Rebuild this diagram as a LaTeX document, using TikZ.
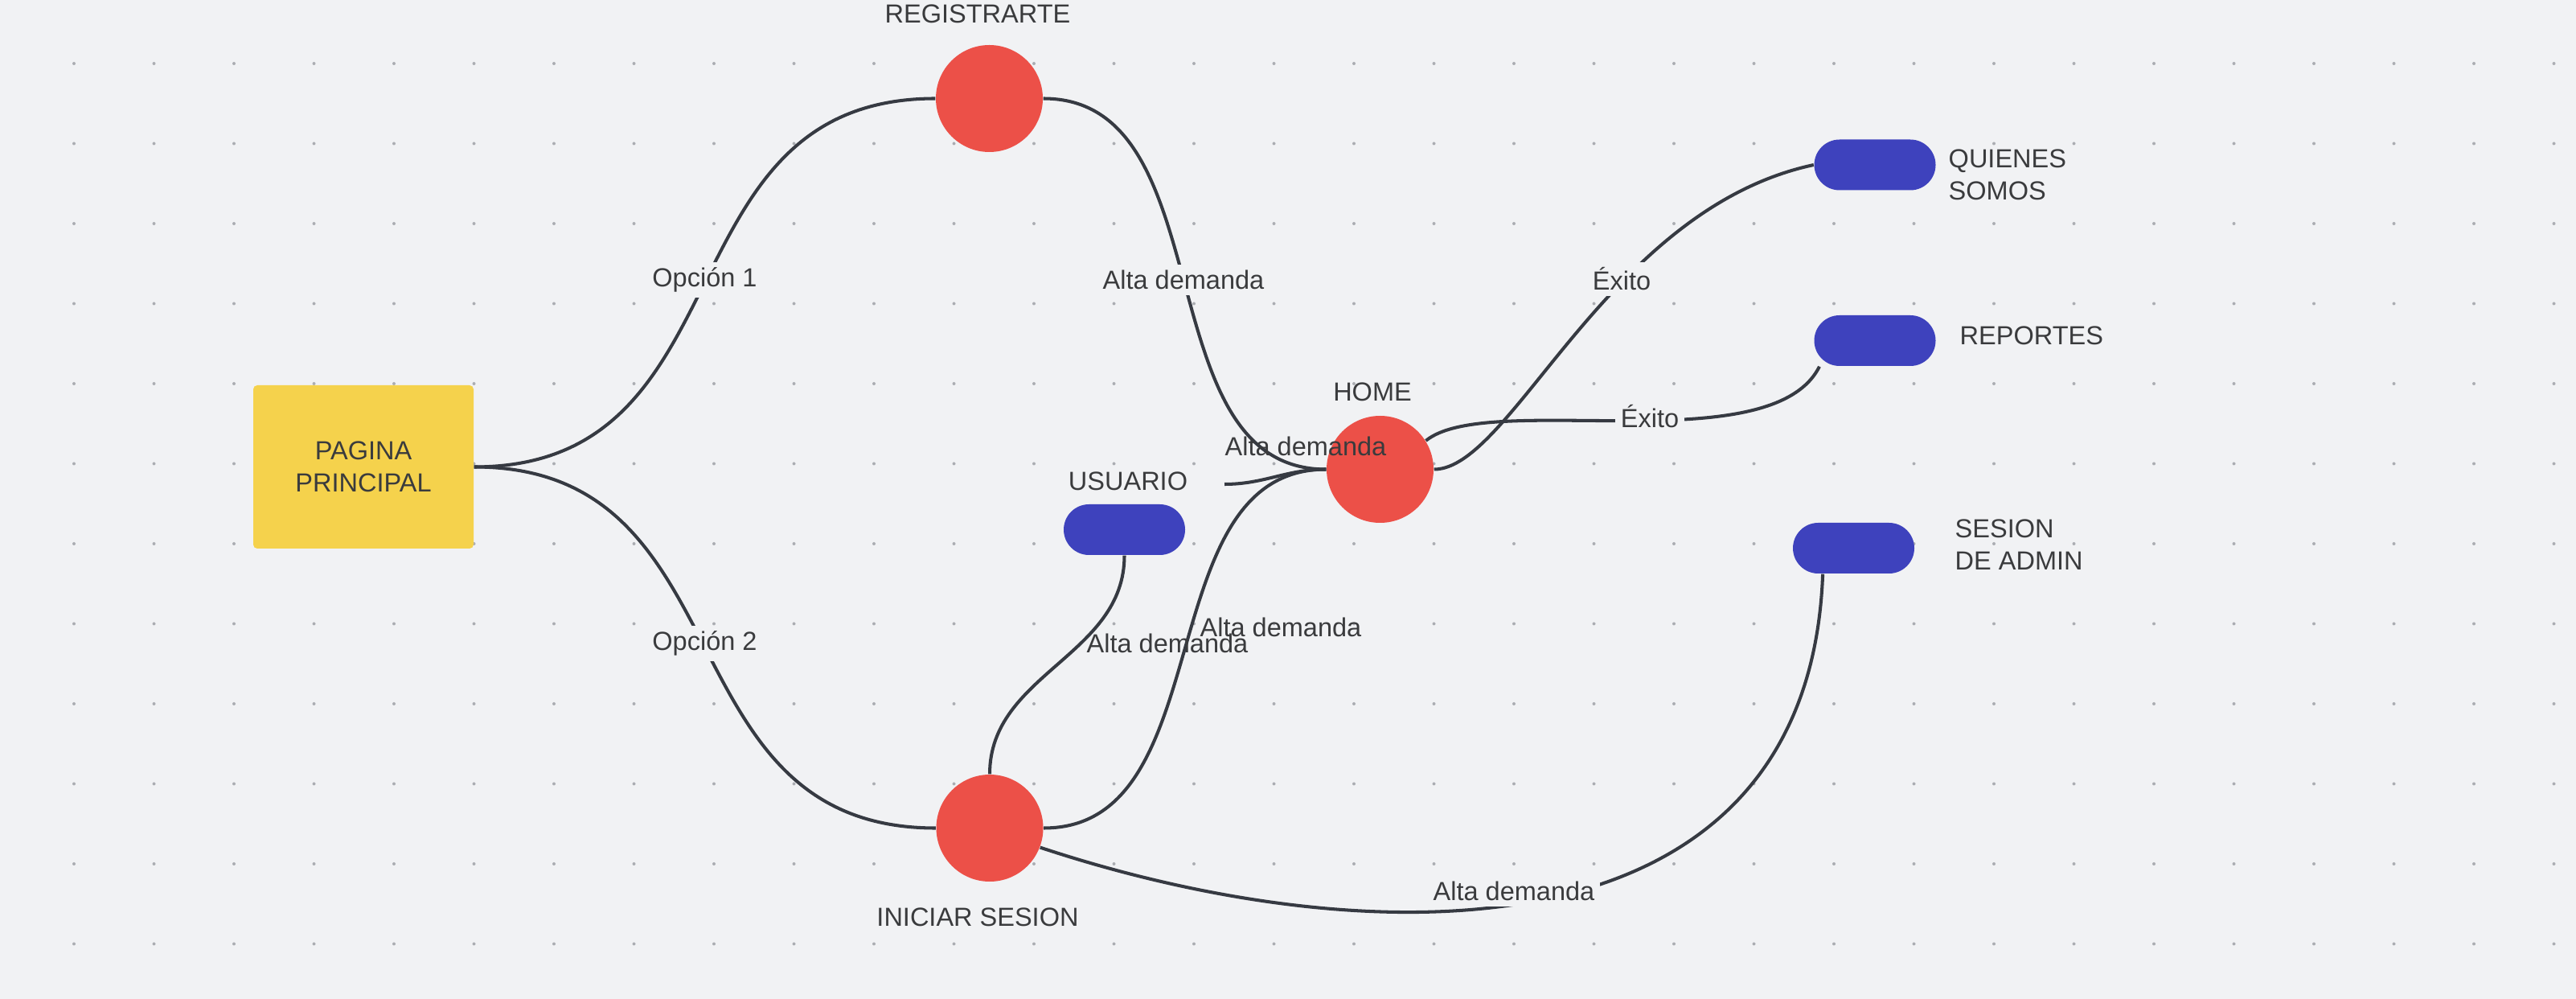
\documentclass[tikz,border=0pt]{standalone}
\usepackage{fontspec}
\setmainfont{Liberation Sans}
\usetikzlibrary{backgrounds}

\definecolor{canvas}{HTML}{F1F2F4}
\definecolor{griddot}{HTML}{ABADB2}
\definecolor{wirecol}{HTML}{363A42}
\definecolor{ink}{HTML}{3A3B3D}
\definecolor{pageyellow}{HTML}{F5D24C}
\definecolor{stopred}{HTML}{EC5048}
\definecolor{pillblue}{HTML}{3E42BD}

\tikzset{
  page/.style={rectangle, rounded corners=0.5mm, fill=pageyellow,
    minimum width=2.74cm, minimum height=2.03cm, align=center, text=ink},
  stop/.style={circle, fill=stopred, minimum size=1.33cm, inner sep=0pt},
  pill/.style={rectangle, rounded corners=3.15mm, fill=pillblue,
    minimum width=1.51cm, minimum height=0.63cm, inner sep=0pt},
  nametag/.style={text=ink, inner sep=0pt},
  edgetag/.style={text=ink, inner sep=0pt},
  edgecut/.style={edgetag, fill=canvas, inner sep=2pt},
  link/.style={draw=wirecol, line width=1.15pt},
}

\begin{document}
\begin{tikzpicture}[font=\fontsize{9.25}{11.4}\selectfont]
      \useasboundingbox (0,0) rectangle (32.04,-12.42);
      \node[page] (pagina) at (4.52,-5.805) {PAGINA\\PRINCIPAL};
      \node[stop] (reg) at (12.305,-1.225) {};
      \node[stop] (ini) at (12.31,-10.295) {};
      \node[stop] (home) at (17.165,-5.835) {};
      \node[pill] (usuario) at (13.985,-6.585) {};
      \node[pill] (quienes) at (23.32,-2.05) {};
      \node[pill] (reportes) at (23.32,-4.235) {};
      \node[pill] (admin) at (23.055,-6.815) {};
      \node[nametag] (regtxt) at (12.16,-0.17) {REGISTRARTE};
      \node[nametag] (initxt) at (12.16,-11.40) {INICIAR SESION};
      \node[nametag] (hometxt) at (17.07,-4.87) {HOME};
      \node[nametag] (usutxt) at (14.03,-5.98) {USUARIO};
      \node[nametag, anchor=west, align=left] (quitxt) at (24.23,-2.175) {QUIENES\\SOMOS};
      \node[nametag, anchor=west] (reptxt) at (24.37,-4.17) {REPORTES};
      \node[nametag, anchor=west, align=left] (admtxt) at (24.31,-6.775) {SESION\\DE ADMIN};
      \coordinate (usufree) at (15.23,-6.02);
      \node[edgecut] (op1) at (8.765,-3.48) {Opción 1};
      \node[edgecut] (op2) at (8.765,-8.00) {Opción 2};
      \node[edgecut] (alta1) at (14.72,-3.48) {Alta demanda};
      \node[edgetag] (alta2) at (16.24,-5.55) {Alta demanda};
      \node[edgetag] (alta3) at (15.93,-7.80) {Alta demanda};
      \node[edgetag] (alta4) at (14.52,-8.00) {Alta demanda};
      \node[edgecut] (alta5) at (18.83,-11.08) {Alta demanda};
      \node[edgecut] (exito1) at (20.17,-3.47) {Éxito};
      \node[edgecut] (exito2) at (20.52,-5.18) {Éxito};
      \begin{scope}[on background layer]
        \fill[canvas] (0,0) rectangle (32.04,-12.42);
        \foreach \i in {0,...,31}
          \foreach \j in {0,...,11}
            \fill[griddot] ({0.92+0.995*\i},{-0.79-0.995*\j}) circle (0.02);
        \draw[link] (pagina.east) to[out=0,in=180,looseness=1.2] (reg.west);
        \draw[link] (pagina.east) to[out=0,in=180,looseness=1.2] (ini.west);
        \draw[link] (reg.east) to[out=0,in=180] (home.west);
        \draw[link] (ini.east) to[out=0,in=180] (home.west);
        \draw[link] (usuario.south) to[out=-90,in=90] (ini.north);
        \draw[link] (usufree) to[out=0,in=180] (home.west);
        \draw[link] (home.east) .. controls +(0.97,0) and +(-2.57,-0.55) .. (quienes.west);
        \draw[link] (home.32) .. controls +(0.77,0.63) and +(-0.6,-1.2) .. (reportes.-155);
        \draw[link] (admin.-140) .. controls +(-0.18,-4.87) and +(4.07,-1.35) .. (ini.-21);
      \end{scope}
    \end{tikzpicture}
\end{document}
